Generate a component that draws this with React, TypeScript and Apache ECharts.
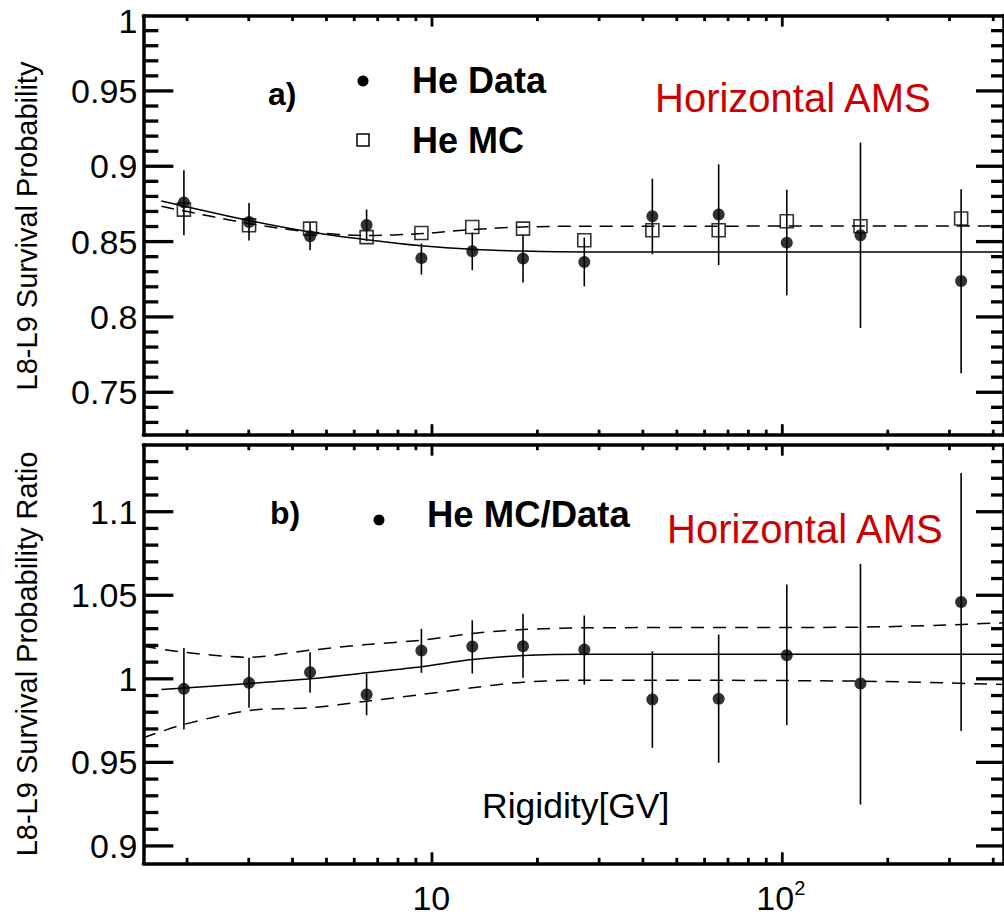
import React, { useEffect, useRef } from 'react';
import * as echarts from 'echarts';

const FONT = '"Liberation Sans", Arial, Helvetica, sans-serif';
const RED = '#cc0000';

// ---- axis ranges / tick values ----
const X_MIN = 1.5;
const X_MAX = 435;
const xLabelValues = [10, 100];
const xMajorTicks = [10, 100];
const xMinorTicks = [2, 3, 4, 5, 6, 7, 8, 9, 20, 30, 40, 50, 60, 70, 80, 90, 200, 300, 400];

const TOP_Y_MIN = 0.7215;
const TOP_Y_MAX = 1.0;
const topYLabels = [0.75, 0.8, 0.85, 0.9, 0.95, 1.0];
const topMajorTicks = [0.75, 0.8, 0.85, 0.9, 0.95];
const topMinorTicks = [0.73, 0.74, 0.76, 0.77, 0.78, 0.79, 0.81, 0.82, 0.83, 0.84, 0.86, 0.87, 0.88, 0.89, 0.91, 0.92, 0.93, 0.94, 0.96, 0.97, 0.98, 0.99];

const BOT_Y_MIN = 0.8896;
const BOT_Y_MAX = 1.1401;
const botYLabels = [0.9, 0.95, 1.0, 1.05, 1.1];
const botMajorTicks = [0.9, 0.95, 1.0, 1.05, 1.1];
const botMinorTicks = [0.91, 0.92, 0.93, 0.94, 0.96, 0.97, 0.98, 0.99, 1.01, 1.02, 1.03, 1.04, 1.06, 1.07, 1.08, 1.09, 1.11, 1.12, 1.13];

// ---- data ----
const rigidity = [1.96, 3.01, 4.5, 6.53, 9.37, 13.1, 18.3, 27.4, 42.9, 66.4, 104, 169, 328];

const heData = [0.876, 0.863, 0.8535, 0.861, 0.839, 0.8436, 0.8387, 0.8365, 0.8668, 0.868, 0.8493, 0.8542, 0.8238];
const heDataLo = [0.8542, 0.8507, 0.8442, 0.8503, 0.8281, 0.831, 0.8228, 0.8203, 0.8416, 0.8343, 0.8143, 0.7926, 0.7627];
const heDataHi = [0.8973, 0.8756, 0.8628, 0.8713, 0.8487, 0.856, 0.8546, 0.8527, 0.8918, 0.9013, 0.8845, 0.9157, 0.8847];
const heMC = [0.8712, 0.8608, 0.8586, 0.853, 0.8557, 0.8597, 0.8586, 0.8509, 0.8575, 0.8575, 0.8635, 0.8602, 0.8653];

const fitR = [1.69, 3.01, 4.5, 6.53, 9.37, 13.1, 18.3, 27.4, 435];
const dataFit = [0.877, 0.864, 0.8564, 0.8513, 0.8473, 0.8449, 0.8437, 0.8431, 0.8431];
const mcFit = [0.8734, 0.862, 0.8564, 0.854, 0.8553, 0.858, 0.8597, 0.8602, 0.8603];

const ratio = [0.994, 0.9976, 1.0039, 0.9906, 1.0169, 1.0193, 1.0195, 1.0175, 0.9876, 0.988, 1.0141, 0.9972, 1.046];
const ratioLo = [0.9697, 0.9827, 0.9916, 0.9782, 1.0036, 1.0032, 1.0006, 0.9966, 0.9587, 0.9498, 0.9723, 0.9248, 0.9687];
const ratioHi = [1.0185, 1.0126, 1.0159, 1.003, 1.0299, 1.035, 1.039, 1.0379, 1.0165, 1.0265, 1.0564, 1.0688, 1.1232];

const ratioFit = [0.9936, 0.9972, 1.0, 1.0036, 1.0072, 1.0115, 1.0139, 1.0147, 1.0147];

const bandR = [1.5, 1.96, 3.01, 4.5, 6.53, 9.37, 13.1, 18.3, 27.4, 169, 435];
const bandUpper = [1.0195, 1.0159, 1.0129, 1.0171, 1.0205, 1.0231, 1.0271, 1.0295, 1.0305, 1.0309, 1.0335];
const bandLower = [0.9647, 0.9727, 0.981, 0.9827, 0.9866, 0.9906, 0.9946, 0.998, 0.9992, 0.9986, 0.9966];

// ---- layout ----
const GRID_LEFT = 143.3;
const GRID_WIDTH = 862.7;
const PANELS = [
  { top: 15.6, height: 419.6, yMin: TOP_Y_MIN, yMax: TOP_Y_MAX, major: topMajorTicks, minor: topMinorTicks },
  { top: 444.7, height: 418.6, yMin: BOT_Y_MIN, yMax: BOT_Y_MAX, major: botMajorTicks, minor: botMinorTicks },
];

function xAxis(gridIndex: number, position: 'top' | 'bottom', showLabel: boolean) {
  return {
    type: 'log',
    logBase: 10,
    gridIndex,
    position,
    min: X_MIN,
    max: X_MAX,
    axisLine: { show: true, onZero: false, lineStyle: { color: '#000', width: 3.5 } },
    axisTick: { show: false },
    minorTick: { show: false },
    axisLabel: {
      show: showLabel,
      customValues: xLabelValues,
      margin: 15,
      formatter: (v: number) => (Math.abs(v - 10) < 1e-6 ? '{b|10}' : '{b|10}{s|2}'),
      rich: {
        b: { fontSize: 34, fontFamily: FONT, color: '#000', lineHeight: 40 },
        s: { fontSize: 20, fontFamily: FONT, color: '#000', lineHeight: 20, verticalAlign: 'top' },
      },
    },
    splitLine: { show: false },
    minorSplitLine: { show: false },
  };
}

function yAxis(gridIndex: number, position: 'left' | 'right', min: number, max: number, labels: number[], showLabel: boolean, isTop: boolean) {
  return {
    type: 'value',
    gridIndex,
    position,
    min,
    max,
    axisLine: { show: true, onZero: false, lineStyle: { color: '#000', width: 3.5 } },
    axisTick: { show: false },
    minorTick: { show: false },
    axisLabel: {
      show: showLabel,
      customValues: labels,
      margin: 6,
      fontSize: 34,
      fontFamily: FONT,
      color: '#000',
      formatter: (v: number) => {
        const s = String(+v.toFixed(2));
        return isTop && Math.abs(v - 1) < 1e-6 ? '{t|' + s + '}' : s;
      },
      rich: {
        t: { fontSize: 34, fontFamily: FONT, color: '#000', padding: [10, 0, 0, 0] },
      },
    },
    splitLine: { show: false },
    minorSplitLine: { show: false },
  };
}

const errRender = (params: any, api: any) => {
  const x = api.value(0);
  const p1 = api.coord([x, api.value(1)]);
  const p2 = api.coord([x, api.value(2)]);
  return {
    type: 'line',
    shape: { x1: p1[0], y1: p1[1], x2: p2[0], y2: p2[1] },
    style: { stroke: '#000', lineWidth: 1.6 },
  };
};

function txt(text: string, x: number, y: number, size: number, opts: any = {}) {
  return {
    type: 'text',
    x,
    y,
    rotation: opts.rotation || 0,
    silent: true,
    style: {
      text,
      fontSize: size,
      fontFamily: FONT,
      fontWeight: opts.bold ? 'bold' : 'normal',
      fill: opts.color || '#000',
      textAlign: opts.align || 'left',
      textVerticalAlign: 'middle',
    },
  };
}

function bar(x: number, y: number, w: number, h: number) {
  return { type: 'rect', silent: true, z: 100, shape: { x, y, width: w, height: h }, style: { fill: '#000' } };
}

// same mapping as the axes: log10 across the grid width, linear in y
const lx0 = Math.log10(X_MIN);
const lx1 = Math.log10(X_MAX);
const px = (v: number) => GRID_LEFT + ((Math.log10(v) - lx0) / (lx1 - lx0)) * GRID_WIDTH;

function tickGraphics() {
  const els: any[] = [];
  PANELS.forEach((p) => {
    const py = (v: number) => p.top + ((p.yMax - v) / (p.yMax - p.yMin)) * p.height;
    const bottom = p.top + p.height;
    const right = GRID_LEFT + GRID_WIDTH;
    const addX = (vals: number[], len: number) =>
      vals.forEach((v) => {
        const x = px(v);
        els.push(bar(x - 1.4, bottom - len, 2.8, len));
        els.push(bar(x - 1.4, p.top, 2.8, len));
      });
    const addY = (vals: number[], len: number) =>
      vals.forEach((v) => {
        const y = py(v);
        els.push(bar(GRID_LEFT, y - 1.65, len, 3.3));
        els.push(bar(right - len, y - 1.65, len, 3.3));
      });
    addX(xMajorTicks, 11);
    addX(xMinorTicks, 5.5);
    addY(p.major, 30);
    addY(p.minor, 15);
  });
  return els;
}

const labelGraphics = [
  txt('L8-L9 Survival Probability', 27, 226, 29, { rotation: Math.PI / 2, align: 'center' }),
  txt('L8-L9 Survival Probability Ratio', 27, 654, 29, { rotation: Math.PI / 2, align: 'center' }),
  txt('a)', 268, 94, 32, { bold: true }),
  { type: 'circle', shape: { cx: 363, cy: 81, r: 5.5 }, style: { fill: '#000' }, silent: true },
  txt('He Data', 412, 80, 36, { bold: true }),
  { type: 'rect', shape: { x: 357, y: 134, width: 12, height: 12 }, style: { fill: 'none', stroke: '#000', lineWidth: 1.5 }, silent: true },
  txt('He MC', 412, 140, 36, { bold: true }),
  txt('Horizontal AMS', 655, 98, 40, { color: RED }),
  txt('b)', 270, 513, 32, { bold: true }),
  { type: 'circle', shape: { cx: 379, cy: 520, r: 5.5 }, style: { fill: '#000' }, silent: true },
  txt('He MC/Data', 427, 514, 36.5, { bold: true }),
  txt('Horizontal AMS', 667, 529, 40, { color: RED }),
  txt('Rigidity[GV]', 482, 806, 35.5),
];

export default function App() {
  const ref = useRef<HTMLDivElement>(null);
  useEffect(() => {
    document.body.style.margin = '0';
    const chart = echarts.init(ref.current!, null, { renderer: 'svg' });
    const option: any = {
      animation: false,
      backgroundColor: '#fff',
      grid: PANELS.map((p) => ({ left: GRID_LEFT, top: p.top, width: GRID_WIDTH, height: p.height })),
      xAxis: [
        xAxis(0, 'bottom', false),
        xAxis(0, 'top', false),
        xAxis(1, 'bottom', true),
        xAxis(1, 'top', false),
      ],
      yAxis: [
        yAxis(0, 'left', TOP_Y_MIN, TOP_Y_MAX, topYLabels, true, true),
        yAxis(0, 'right', TOP_Y_MIN, TOP_Y_MAX, topYLabels, false, true),
        yAxis(1, 'left', BOT_Y_MIN, BOT_Y_MAX, botYLabels, true, false),
        yAxis(1, 'right', BOT_Y_MIN, BOT_Y_MAX, botYLabels, false, false),
      ],
      series: [
        {
          type: 'custom', name: 'He Data errors', xAxisIndex: 0, yAxisIndex: 0,
          data: rigidity.map((r, i) => [r, heDataLo[i], heDataHi[i]]),
          encode: { x: 0, y: [1, 2] }, renderItem: errRender, z: 2, silent: true,
        },
        {
          type: 'line', name: 'He Data fit', xAxisIndex: 0, yAxisIndex: 0,
          data: fitR.map((r, i) => [r, dataFit[i]]),
          symbol: 'none', smooth: 0.3, lineStyle: { color: '#000', width: 1.5 }, z: 3, silent: true,
        },
        {
          type: 'line', name: 'He MC fit', xAxisIndex: 0, yAxisIndex: 0,
          data: fitR.map((r, i) => [r, mcFit[i]]),
          symbol: 'none', smooth: 0.3, lineStyle: { color: '#000', width: 1.5, type: [13, 8] }, z: 3, silent: true,
        },
        {
          type: 'scatter', name: 'He Data', xAxisIndex: 0, yAxisIndex: 0,
          data: rigidity.map((r, i) => [r, heData[i]]),
          symbol: 'circle', symbolSize: 12, itemStyle: { color: '#000' }, z: 5,
        },
        {
          type: 'scatter', name: 'He MC', xAxisIndex: 0, yAxisIndex: 0,
          data: rigidity.map((r, i) => [r, heMC[i]]),
          symbol: 'rect', symbolSize: 13,
          itemStyle: { color: 'rgba(0,0,0,0)', borderColor: '#000', borderWidth: 1.6 }, z: 5,
        },
        {
          type: 'custom', name: 'He MC/Data errors', xAxisIndex: 2, yAxisIndex: 2,
          data: rigidity.map((r, i) => [r, ratioLo[i], ratioHi[i]]),
          encode: { x: 0, y: [1, 2] }, renderItem: errRender, z: 2, silent: true,
        },
        {
          type: 'line', name: 'Ratio fit', xAxisIndex: 2, yAxisIndex: 2,
          data: fitR.map((r, i) => [r, ratioFit[i]]),
          symbol: 'none', smooth: 0.3, lineStyle: { color: '#000', width: 1.5 }, z: 3, silent: true,
        },
        {
          type: 'line', name: 'Ratio upper band', xAxisIndex: 2, yAxisIndex: 2,
          data: bandR.map((r, i) => [r, bandUpper[i]]),
          symbol: 'none', smooth: 0.3, lineStyle: { color: '#000', width: 1.5, type: [13, 9] }, z: 3, silent: true,
        },
        {
          type: 'line', name: 'Ratio lower band', xAxisIndex: 2, yAxisIndex: 2,
          data: bandR.map((r, i) => [r, bandLower[i]]),
          symbol: 'none', smooth: 0.3, lineStyle: { color: '#000', width: 1.5, type: [13, 9] }, z: 3, silent: true,
        },
        {
          type: 'scatter', name: 'He MC/Data', xAxisIndex: 2, yAxisIndex: 2,
          data: rigidity.map((r, i) => [r, ratio[i]]),
          symbol: 'circle', symbolSize: 12, itemStyle: { color: '#000' }, z: 5,
        },
      ],
      graphic: [...labelGraphics, ...tickGraphics()],
    };
    chart.setOption(option);
    return () => chart.dispose();
  }, []);
  return <div ref={ref} style={{ width: 1004, height: 917, background: '#fff' }} />;
}
